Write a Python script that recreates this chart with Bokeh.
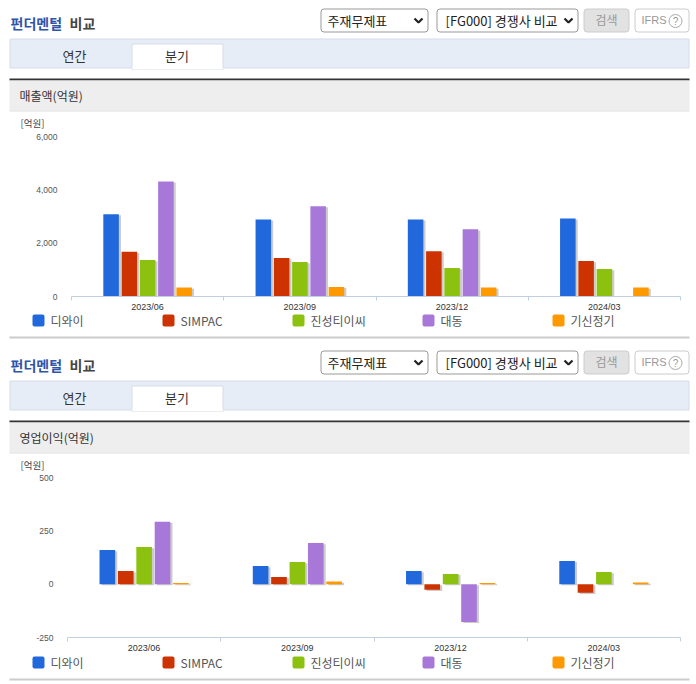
from bokeh.plotting import figure
from bokeh.embed import file_html
from bokeh.resources import INLINE
from bokeh.layouts import column
from bokeh.core.properties import value
from bokeh.models import ColumnDataSource, Range1d, LinearAxis, FixedTicker, NumeralTickFormatter
from bokeh.transform import dodge

# ---------- data ----------
periods = ["2023/06", "2023/09", "2023/12", "2024/03"]
series_names = ["디와이", "SIMPAC", "진성티이씨", "대동", "기신정기"]
series_colors = ["#2168DC", "#CC3300", "#8CC20F", "#A878D8", "#FF9900"]
nan = float("nan")

sales_dy = [3089, 2892, 2892, 2929]
sales_simpac = [1675, 1440, 1700, 1329]
sales_jinsung = [1365, 1291, 1068, 1031]
sales_daedong = [4317, 3387, 2520, nan]
sales_kisin = [335, 360, 335, 335]
sales_ticks = [0, 2000, 4000, 6000]

op_dy = [160, 85, 62, 109]
op_simpac = [62, 34, -26, -40]
op_jinsung = [174, 104, 48, 57]
op_daedong = [292, 193, -177, nan]
op_kisin = [5, 12, 5, 8]
op_ticks = [-250, 0, 250, 500]

FONT = "Noto Sans CJK KR"
NUM = "Liberation Sans"
W = 696


def chrome(y0, y1, overlap=0):
    p = figure(width=W, height=y1 - y0, x_range=Range1d(0, W), y_range=Range1d(y1, y0),
               output_backend="svg", toolbar_location=None, min_border=0, outline_line_color=None,
               x_axis_type=None, y_axis_type=None, frame_align=False, margin=(-overlap, 0, 0, 0),
               background_fill_color=None, border_fill_color=None)
    p.grid.visible = False
    return p


def box(p, l, t, r, b, fill, line=None, radius=0):
    p.quad(left=[l], right=[r], top=[t], bottom=[b], fill_color=fill, line_color=line, border_radius=radius)


def txt(p, x, y, s, size, color="#333333", style="normal", align="left", font=FONT):
    p.text(x=[x], y=[y], text=[s], text_font=value(font), text_font_size=f"{size}px", text_color=color,
           text_font_style=style, text_align=align, text_baseline="middle")


def chevron(p, cx, cy):
    p.line(x=[cx - 4, cx, cx + 4], y=[cy - 2, cy + 2, cy - 2], line_color="#222222", line_width=2.2)


def section(p, d, label):
    txt(p, 10, 22.5 + d, "펀더멘털", 14, "#2F55A8", "bold")
    txt(p, 69, 22.5 + d, "비교", 14, "#444444", "bold")
    box(p, 320.5, 8.5 + d, 427.5, 31.5 + d, "#FFFFFF", "#999999", 3)
    txt(p, 327, 19.5 + d, "주재무제표", 13, "#222222")
    chevron(p, 418, 20 + d)
    box(p, 436.5, 8.5 + d, 577.5, 31.5 + d, "#FFFFFF", "#999999", 3)
    txt(p, 445, 19.5 + d, "[FG000] 경쟁사 비교", 13, "#222222")
    chevron(p, 568, 20 + d)
    box(p, 583.5, 8.5 + d, 628.5, 31.5 + d, "#E2E2E2", "#CCCCCC", 3)
    txt(p, 606, 19 + d, "검색", 12, "#999999", align="center")
    box(p, 634.5, 8.5 + d, 688.5, 31.5 + d, "#FFFFFF", "#CCCCCC", 3)
    txt(p, 641, 19.5 + d, "IFRS", 11, "#999999", font=NUM)
    p.scatter(x=[675], y=[20.5 + d], size=13, marker="circle", fill_color="#FFFFFF", line_color="#AAAAAA")
    txt(p, 675, 20.5 + d, "?", 10, "#999999", align="center", font=NUM)
    box(p, 9.5, 38.5 + d, 688.5, 67.5 + d, "#E6EDF7", "#D5DDE8")
    box(p, 131.5, 43.5 + d, 222.5, 69 + d, "#FFFFFF", "#D5DDE8")
    box(p, 132, 66 + d, 222, 69 + d, "#FFFFFF", None)
    txt(p, 74, 54.5 + d, "연간", 13, align="center")
    txt(p, 176.5, 54.5 + d, "분기", 13, align="center")
    box(p, 9, 78 + d, 689, 80 + d, "#333333")
    box(p, 9, 80 + d, 689, 110 + d, "#EEEEEE")
    box(p, 9, 110 + d, 689, 111 + d, "#DDDDDD")
    txt(p, 19, 95 + d, label, 12, "#333333")
    txt(p, 20, 122.5 + d, "[억원]", 9.5, "#444444")


def legend(p, y):
    for i, (nm, c) in enumerate(zip(series_names, series_colors)):
        x = 32 + 130 * i
        box(p, x, y - 6, x + 12, y + 6, c, None, 2)
        txt(p, x + 18, y - 0.5, nm, 12, "#555555")


def chart(series, ticks, y_min, y_max, left, top, bottom):
    n = len(periods)
    x_range = Range1d(0, n)
    y_range = Range1d(y_min, y_max)
    p = figure(width=W, height=top + 161 + bottom, x_range=x_range, y_range=y_range, output_backend="svg",
               toolbar_location=None, min_border_left=left, min_border_right=16, min_border_top=top,
               min_border_bottom=bottom, outline_line_color=None, x_axis_type=None, y_axis_type=None,
               frame_align=False)
    p.xgrid.visible = False
    names = ["v0", "v1", "v2", "v3", "v4"]
    centers = [i + 0.5 for i in range(n)]
    src = ColumnDataSource(dict(pos=centers, period=periods, **dict(zip(names, series))))
    px_y = (y_max - y_min) / 161
    for i, (col, nm, c) in enumerate(zip(names, series_names, series_colors)):
        off = (i - 2) * 0.12
        p.vbar(x=dodge("pos", off + 0.014), top=dodge(col, -1.2 * px_y),
               bottom=-1.2 * px_y, width=0.102, source=src, fill_color="#BBBBBB", fill_alpha=0.75, line_color=None)
        p.vbar(x=dodge("pos", off), top=col, bottom=0, width=0.102, source=src,
               fill_color=c, line_color=None, name=nm)

    yax = LinearAxis(ticker=FixedTicker(ticks=ticks), formatter=NumeralTickFormatter(format="0,0"),
                     axis_line_color=None, major_tick_line_color=None, minor_tick_line_color=None,
                     major_label_text_font=NUM, major_label_text_font_size="8.5px",
                     major_label_text_color="#555555", major_label_standoff=8)
    p.add_layout(yax, "left")
    p.ygrid.ticker = FixedTicker(ticks=ticks)
    p.ygrid.grid_line_color = "#D8D8D8"

    xax = LinearAxis(ticker=FixedTicker(ticks=centers, minor_ticks=list(range(n + 1))),
                     major_label_overrides=dict(zip(centers, periods)),
                     axis_line_color="#C0D0E0", major_tick_line_color=None, major_tick_out=0, major_tick_in=0,
                     minor_tick_line_color="#C0D0E0", minor_tick_out=4, minor_tick_in=0,
                     major_label_text_font=NUM, major_label_text_font_size="9px",
                     major_label_text_color="#333333", major_label_standoff=1)
    p.add_layout(xax, "below")
    return p


top1 = chrome(0, 130)
section(top1, 0, "매출액(억원)")
chart1 = chart([sales_dy, sales_simpac, sales_jinsung, sales_daedong, sales_kisin], sales_ticks, 0, 6000,
               71, 6, 17)
top2 = chrome(310, 472, overlap=4)
legend(top2, 320)
box(top2, 9, 336, 689, 338, "#CCCCCC")
section(top2, 342, "영업이익(억원)")
chart2 = chart([op_dy, op_simpac, op_jinsung, op_daedong, op_kisin], op_ticks, -250, 500,
               67, 5, 17)
end = chrome(651, 684, overlap=4)
legend(end, 662)
box(end, 9, 678, 689, 680, "#CCCCCC")

page = column(top1, chart1, top2, chart2, end, spacing=0)
open("out.html", "w").write(file_html(page, INLINE))
